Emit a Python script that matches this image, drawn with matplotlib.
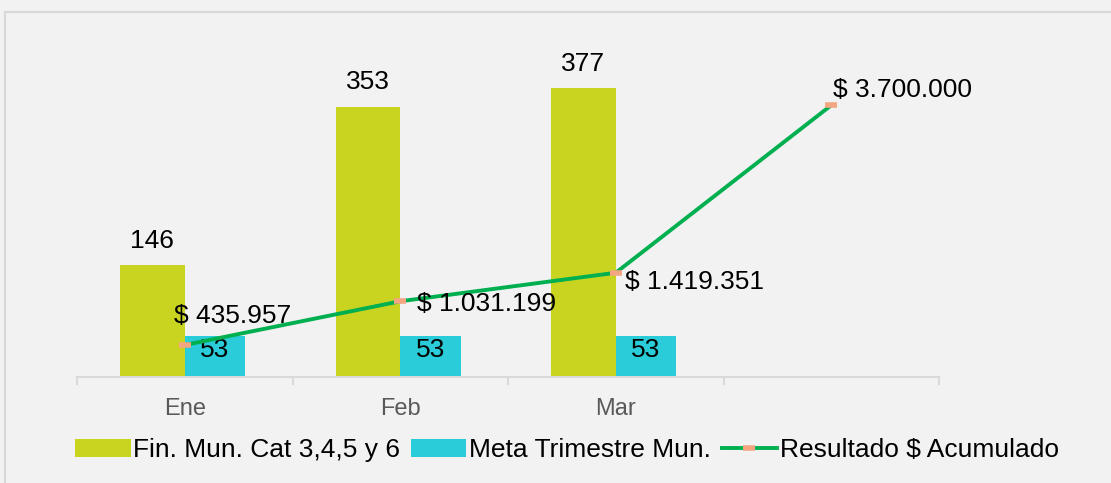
import numpy as np
import matplotlib
matplotlib.use("Agg")
import matplotlib.pyplot as plt
from matplotlib.lines import Line2D
from matplotlib.transforms import Bbox, TransformedBbox

plt.rcParams['font.family'] = ['Liberation Sans', 'DejaVu Sans']

# data
meses = ["Ene", "Feb", "Mar", ""]
fin_mun = [146, 353, 377]
meta_trim = [53, 53, 53]
acumulado = [435957, 1031199, 1419351, 3700000]
acum_labels = ["$ 435.957", "$ 1.031.199", "$ 1.419.351", "$ 3.700.000"]

c_green = "#c9d420"
c_cyan = "#29ccd8"
c_line = "#00b050"
c_mark = "#f4a582"
bg = "#f2f2f2"

W, H = 1111, 483
fig = plt.figure(figsize=(W / 100, H / 100), dpi=100, facecolor=bg)
ax = fig.add_axes([77 / W, (H - 377) / H, (939 - 77) / W, 343 / H])
ax.set_facecolor(bg)

x = np.arange(len(meses))
xb = x[:len(fin_mun)]
b1 = ax.bar(xb, fin_mun, width=-0.30, align="edge", color=c_green,
            label="Fin. Mun. Cat 3,4,5 y 6", zorder=2)
b2 = ax.bar(xb, meta_trim, width=0.28, align="edge", color=c_cyan,
            label="Meta Trimestre Mun.", zorder=2)
ax.set_xlim(-0.5, 3.5)
ax.set_ylim(0, 448)

for r, v in zip(b1, fin_mun):
    ax.annotate(str(v), (r.get_x() + r.get_width() / 2, v), xytext=(0, 9),
                textcoords="offset points", ha="center", va="bottom", fontsize=19)
for r, v in zip(b2, meta_trim):
    ax.annotate(str(v), (r.get_x() + r.get_width() / 2, v), xytext=(0, -1),
                textcoords="offset points", ha="center", va="top", fontsize=19)

for s in ["top", "left", "right"]:
    ax.spines[s].set_visible(False)
ax.spines["bottom"].set_color("#d9d9d9")
ax.spines["bottom"].set_linewidth(1.5)
ax.set_yticks([])
ax.set_xticks(np.arange(-0.5, 4, 1))
ax.set_xticklabels([])
ax.tick_params(axis="x", which="major", length=6, width=1.5, color="#d9d9d9")
ax.set_xticks(x, minor=True)
ax.set_xticklabels(meses, minor=True)
ax.tick_params(axis="x", which="minor", length=0, pad=15, labelsize=17,
               labelcolor="#595959")

ax2 = ax.twinx()
ax2.set_ylim(0, 4.67e6)
ax2.set_yticks([])
for s in ax2.spines.values():
    s.set_visible(False)
ln, = ax2.plot(x, acumulado, color=c_line, lw=2.8, marker="_", ms=9,
               mew=4, mec=c_mark, label="Resultado $ Acumulado", zorder=3)

offs = [(-8, 21), (12, -2), (7, -7), (1, 11)]
clip = TransformedBbox(Bbox([[0, 0], [972 / W, 1]]), fig.transFigure)
for xi, v, lab, o in zip(x, acumulado, acum_labels, offs):
    t = ax2.annotate(lab, (xi, v), xytext=o, textcoords="offset points",
                     ha="left", va="center", fontsize=19)
    t.set_clip_box(clip)
    t.set_clip_on(True)

fig.legend(handles=[b1, b2, ln], loc="center", bbox_to_anchor=(567 / W, 33 / H),
           ncol=3, frameon=False, fontsize=19, handlelength=2.1,
           handleheight=0.7, handletextpad=0.1, columnspacing=0.4)

fig.add_artist(Line2D([5 / W, 5 / W], [0, (H - 12) / H], color="#d9d9d9", lw=1.5))
fig.add_artist(Line2D([5 / W, 1], [(H - 12) / H, (H - 12) / H], color="#d9d9d9", lw=1.5))

fig.savefig("out.png", dpi=100, facecolor=bg)
